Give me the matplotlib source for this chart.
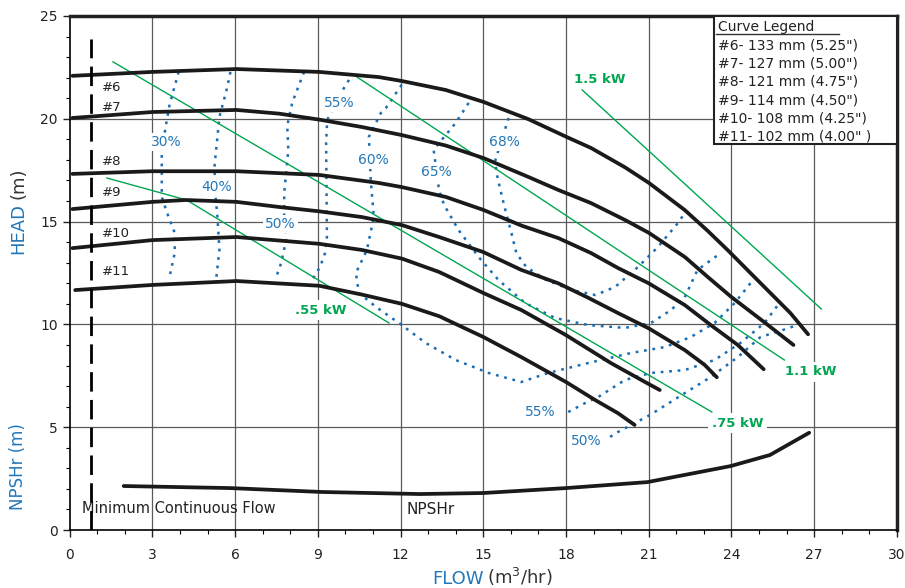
import matplotlib
matplotlib.use("Agg")
import matplotlib.pyplot as plt
from matplotlib.patches import Rectangle

plt.rcParams['font.family'] = ['DejaVu Sans']

BLUE = '#2477b8'
GREEN = '#00a651'
DOT = '#1a6db3'
INK = '#222222'

# ---------------- impeller head curves ----------------
h6_x = [0.1, 3.0, 6.05, 9.05, 11.21, 12.04, 13.64, 15.01, 16.64, 18.05, 18.91, 20.14, 21.01, 22.31, 23.14,
        23.86, 24.69, 25.56, 26.14, 26.78]
h6_y = [22.09, 22.28, 22.42, 22.28, 22.03, 21.84, 21.4, 20.82, 19.98, 19.1, 18.58, 17.64, 16.88, 15.56, 14.55,
        13.62, 12.5, 11.33, 10.55, 9.52]
h7_x = [0.1, 3.0, 6.05, 7.6, 9.05, 10.6, 12.04, 13.64, 15.01, 16.64, 17.72, 18.91, 20.14, 21.01, 22.31, 23.14,
        24.0, 25.2, 26.25]
h7_y = [20.04, 20.33, 20.43, 20.25, 19.96, 19.6, 19.21, 18.7, 18.09, 17.17, 16.54, 15.9, 15.08, 14.45, 13.28, 12.31,
        11.33, 10.1, 9.0]
h8_x = [0.1, 3.0, 6.05, 9.05, 11.21, 12.04, 13.64, 15.0, 16.4, 17.72, 18.91, 19.89, 21.0, 22.31, 23.25, 24.23, 25.17]
h8_y = [17.32, 17.45, 17.45, 17.27, 16.88, 16.68, 16.2, 15.57, 14.8, 14.2, 13.47, 12.74, 12.0, 10.94, 9.97, 9.0, 7.82]
h9_x = [0.1, 3.0, 4.2, 6.05, 7.6, 9.05, 10.6, 12.05, 13.4, 15.0, 16.38, 17.72, 18.8, 19.89, 21.0, 22.31, 23.03, 23.47]
h9_y = [15.61, 15.96, 16.05, 15.96, 15.71, 15.5, 15.22, 14.83, 14.25, 13.52, 12.65, 12.0, 11.3, 10.55, 9.81, 8.75,
        8.03, 7.43]
h10_x = [0.1, 3.0, 6.05, 9.05, 10.6, 12.05, 13.4, 15.0, 16.38, 18.0, 19.63, 21.0, 21.4]
h10_y = [13.71, 14.1, 14.25, 13.92, 13.62, 13.2, 12.55, 11.53, 10.7, 9.48, 8.12, 7.1, 6.81]
h11_x = [0.2, 3.0, 6.05, 9.05, 10.6, 12.05, 13.4, 15.0, 16.38, 18.0, 19.06, 19.89, 20.49]
h11_y = [11.67, 11.92, 12.11, 11.88, 11.45, 11.0, 10.4, 9.39, 8.41, 7.2, 6.32, 5.68, 5.11]
head_x = [h6_x, h7_x, h8_x, h9_x, h10_x, h11_x]
head_y = [h6_y, h7_y, h8_y, h9_y, h10_y, h11_y]
curve_tags = ['#6', '#7', '#8', '#9', '#10', '#11']
tag_y = [21.5, 20.55, 17.9, 16.4, 14.4, 12.55]

legend_title = 'Curve Legend'
legend_rows = ['#6- 133 mm (5.25")', '#7- 127 mm (5.00")', '#8- 121 mm (4.75")',
               '#9- 114 mm (4.50")', '#10- 108 mm (4.25")', '#11- 102 mm (4.00" )']

# ---------------- NPSHr ----------------
npsh_x = [1.96, 5.82, 9.15, 12.7, 15.0, 18.0, 20.95, 23.97, 25.4, 26.03, 26.82]
npsh_y = [2.14, 2.04, 1.85, 1.75, 1.8, 2.04, 2.33, 3.11, 3.65, 4.13, 4.73]

mcf_x = 0.78
mcf_y = [0.0, 23.9]

# ---------------- power lines ----------------
p15_x = [18.59, 27.26]; p15_y = [21.4, 10.75]
p11_x = [10.31, 25.92]; p11_y = [22.13, 8.27]
p75_x = [1.57, 23.29]; p75_y = [22.77, 5.74]
p55_x = [1.35, 4.24, 11.58]; p55_y = [17.12, 16.05, 10.07]
power_x = [p15_x, p11_x, p75_x, p55_x]
power_y = [p15_y, p11_y, p75_y, p55_y]
power_labels = ['1.5 kW', '1.1 kW', '.75 kW', '.55 kW']
power_lab_x = [19.24, 26.86, 24.22, 9.12]
power_lab_y = [21.93, 7.69, 5.2, 10.7]

# ---------------- efficiency contours ----------------
e30_x = [3.95, 3.62, 3.48, 3.34, 3.34, 3.52, 3.81, 3.81, 3.62]
e30_y = [22.28, 20.67, 19.6, 18.39, 16.2, 15.47, 14.45, 13.47, 12.3]
e40_x = [5.83, 5.69, 5.43, 5.25, 5.29, 5.36, 5.43, 5.32]
e40_y = [22.28, 21.4, 20.09, 17.66, 16.2, 15.22, 13.62, 12.3]
e50a_x = [8.5, 8.07, 7.89, 7.93, 7.78, 7.78, 7.85, 7.67, 7.49]
e50a_y = [22.28, 20.78, 19.66, 18.49, 16.39, 15.32, 14.1, 12.99, 12.3]
e55a_x = [10.13, 9.84, 9.52, 9.34, 9.3, 9.33, 9.26, 9.08, 8.79]
e55a_y = [21.89, 21.26, 20.43, 19.94, 18.83, 14.25, 13.47, 12.79, 12.16]
e60_x = [12.04, 11.47, 11.29, 10.85, 10.92, 11.03, 10.78, 10.38, 10.49, 11.11, 11.94, 12.91, 14.0, 15.19, 16.38,
         17.36, 18.8, 20.36, 21.59, 22.53, 23.39, 24.12, 24.7]
e60_y = [21.65, 20.53, 20.29, 19.12, 17.02, 15.22, 13.62, 12.5, 11.53, 10.85, 10.07, 9.1, 8.27, 7.64, 7.2,
         7.64, 8.12, 8.61, 8.9, 9.39, 10.07, 11.04, 12.02]
e65_x = [14.47, 14.0, 13.49, 13.2, 13.38, 13.49, 13.67, 14.1, 14.83, 15.55, 16.52, 17.61, 18.8, 20.14, 21.08, 21.81,
         22.3, 22.77, 23.61]
e65_y = [20.77, 19.8, 18.97, 18.49, 16.7, 16.1, 15.6, 14.6, 13.28, 12.16, 11.04, 10.31, 9.97, 9.83, 10.07, 10.7,
         11.3, 12.65, 13.47]
e68_x = [15.92, 15.44, 15.48, 15.62, 15.77, 16.02, 16.2, 16.56, 17.28, 18.22, 19.07, 19.78, 20.61, 21.33, 22.06, 22.31]
e68_y = [20.04, 18.0, 17.38, 16.55, 15.72, 14.45, 13.47, 12.79, 12.16, 11.67, 11.43, 11.82, 12.79, 13.76, 14.93, 15.42]
e55b_x = [18.08, 18.7, 19.17, 20.14, 21.08, 22.31, 23.39, 24.33, 25.2, 25.74]
e55b_y = [5.74, 6.18, 6.47, 7.3, 7.64, 7.78, 8.27, 9.1, 10.07, 11.04]
e50b_x = [19.6, 19.89, 21.04, 22.31, 23.25, 24.23, 25.06, 25.8, 26.4]
e50b_y = [4.53, 4.77, 5.59, 6.66, 7.44, 8.41, 9.39, 9.7, 9.97]
eff_x = [e30_x, e40_x, e50a_x, e55a_x, e60_x, e65_x, e68_x, e55b_x, e50b_x]
eff_y = [e30_y, e40_y, e50a_y, e55a_y, e60_y, e65_y, e68_y, e55b_y, e50b_y]
eff_labels = ['30%', '40%', '50%', '55%', '60%', '65%', '68%', '55%', '50%']
eff_lab_x = [3.52, 5.33, 7.64, 9.77, 11.03, 13.31, 15.77, 17.07, 18.73]
eff_lab_y = [18.88, 16.68, 14.89, 20.77, 18.0, 17.42, 18.87, 5.74, 4.33]

x_ticks = [0, 3, 6, 9, 12, 15, 18, 21, 24, 27, 30]
y_ticks = [0, 5, 10, 15, 20, 25]

# ======================================================
fig = plt.figure(figsize=(9.05, 5.88), dpi=100)
ax = fig.add_axes([0.077, 0.0986, 0.914, 0.8742])
ax.set_xlim(0, 30)
ax.set_ylim(0, 25)

# grid
for gx in x_ticks[1:-1]:
    ax.axvline(gx, color='#5a5a5a', lw=0.9, zorder=1)
for gy in y_ticks[1:-1]:
    ax.axhline(gy, color='#5a5a5a', lw=0.9, zorder=1)

# efficiency contours
for xs, ys in zip(eff_x, eff_y):
    ax.plot(xs, ys, color=DOT, lw=1.8, ls=(0, (1.1, 2.3)), zorder=2)

# power lines
for xs, ys in zip(power_x, power_y):
    ax.plot(xs, ys, color=GREEN, lw=1.0, zorder=3)

# head curves
for xs, ys in zip(head_x, head_y):
    ax.plot(xs, ys, color='#1a1a1a', lw=2.7, solid_capstyle='round', solid_joinstyle='round', zorder=4)

# NPSHr
ax.plot(npsh_x, npsh_y, color='#1a1a1a', lw=2.7, solid_capstyle='round', solid_joinstyle='round', zorder=4)

# min continuous flow
ax.plot([mcf_x, mcf_x], mcf_y, color='black', lw=2.0, ls=(0, (7, 3)), zorder=4)

# labels
for t, ty in zip(curve_tags, tag_y):
    ax.text(1.17, ty, t, fontsize=9.5, color=INK, va='center', ha='left', zorder=6)

for t, lx, ly in zip(eff_labels, eff_lab_x, eff_lab_y):
    ax.text(lx, ly, t, fontsize=10, color=BLUE, ha='center', va='center', zorder=6,
            bbox=dict(facecolor='white', edgecolor='none', pad=1.5))

for t, lx, ly in zip(power_labels, power_lab_x, power_lab_y):
    ax.text(lx, ly, t, fontsize=9.5, color=GREEN, fontweight='bold', ha='center', va='center', zorder=6,
            bbox=dict(facecolor='white', edgecolor='none', pad=2.5))

ax.text(0.45, 1.07, 'Minimum Continuous Flow', fontsize=10.5, color=INK, va='center', ha='left')
ax.text(12.23, 1.02, 'NPSHr', fontsize=11, color=INK, va='center', ha='left')

# curve legend box
ax.add_patch(Rectangle((23.37, 18.77), 6.63, 6.23, facecolor='white', edgecolor=INK, lw=1.5, zorder=7))
ax.text(23.5, 24.48, legend_title, fontsize=10, color=INK, va='center', ha='left', zorder=8)
ax.plot([23.45, 27.9], [24.12, 24.12], color='#333333', lw=1.0, zorder=8)
leg_y = [23.57, 22.67, 21.8, 20.9, 20.02, 19.15]
for t, ly in zip(legend_rows, leg_y):
    ax.text(23.5, ly, t, fontsize=10, color=INK, va='center', ha='left', zorder=8)

# spines / ticks
for s in ['left', 'bottom']:
    ax.spines[s].set_linewidth(1.2)
for s in ['top', 'right']:
    ax.spines[s].set_linewidth(2.5)
    ax.spines[s].set_color(INK)
ax.set_xticks(x_ticks)
ax.set_yticks(y_ticks)
ax.set_xticks(range(0, 31), minor=True)
ax.set_yticks(range(0, 26), minor=True)
ax.tick_params(which='major', length=5, width=1, labelsize=10, colors=INK)
ax.tick_params(which='minor', length=3, width=0.8)
ax.tick_params(axis='x', pad=8)

# axis titles
fig.text(0.020, 0.612, 'HEAD', rotation=90, color=BLUE, fontsize=13, ha='center', va='center')
fig.text(0.020, 0.688, '(m)', rotation=90, color='#333333', fontsize=13, ha='center', va='center')
fig.text(0.020, 0.207, 'NPSHr (m)', rotation=90, color=BLUE, fontsize=12, ha='center', va='center')
fig.text(0.534, 0.006, 'FLOW', color=BLUE, fontsize=13, ha='right', va='baseline')
fig.text(0.538, 0.006, r'(m$^3$/hr)', color='#333333', fontsize=13, ha='left', va='baseline')

fig.savefig('out.png', dpi=100)
